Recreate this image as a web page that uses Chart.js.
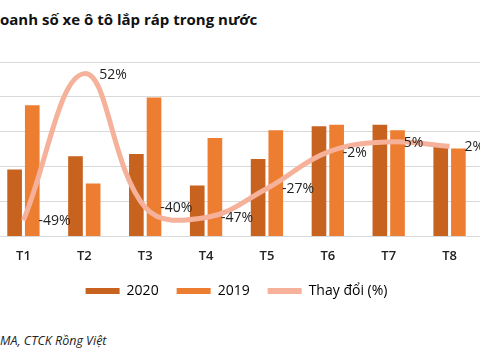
<!DOCTYPE html>
<html>
<head>
<meta charset="utf-8">
<script src="https://cdn.jsdelivr.net/npm/chart.js@4/dist/chart.umd.min.js"></script>
<style>
  html, body { margin: 0; padding: 0; background: #fff; overflow: hidden; }
  body { width: 480px; height: 360px; position: relative; font-family: "Open Sans", sans-serif; }
  #title { position: absolute; left: 0; top: 9px; font-size: 15px; font-weight: bold; color: #111; white-space: nowrap; }
  #source { position: absolute; left: 0; top: 332px; font-size: 12.5px; font-style: italic; color: #222; white-space: nowrap; }
  #wrap { position: absolute; left: -7px; top: 0; width: 487px; height: 308px; }
</style>
</head>
<body>
<div id="title">oanh số xe ô tô lắp ráp trong nước</div>
<div id="wrap"><canvas id="salesChart"></canvas></div>
<div id="source">MA, CTCK Rồng Việt</div>
<script>
const months = ['T1', 'T2', 'T3', 'T4', 'T5', 'T6', 'T7', 'T8'];
const sales2020 = [9.6, 11.5, 11.8, 7.3, 11.1, 15.8, 16.0, 12.8];
const sales2019 = [18.8, 7.6, 19.9, 14.1, 15.2, 16.0, 15.2, 12.6];
const changePct = [-49, 52, -40, -47, -27, -2, 5, 2];

// labels next to the line points, like the excel "right" position
const pctLabels = {
  id: 'pctLabels',
  afterDatasetsDraw(chart) {
    const meta = chart.getDatasetMeta(2);
    const ctx = chart.ctx;
    ctx.save();
    ctx.font = '14px "Open Sans"';
    ctx.fillStyle = '#222';
    ctx.textAlign = 'left';
    ctx.textBaseline = 'middle';
    meta.data.forEach((pt, i) => {
      ctx.fillText(changePct[i] + '%', pt.x + 15, pt.y + 1);
    });
    ctx.restore();
  }
};

const ctx = document.getElementById('salesChart').getContext('2d');
const salesChart = new Chart(ctx, {
  type: 'bar',
  data: {
    labels: months,
    datasets: [
      {
        label: '2020',
        data: sales2020,
        backgroundColor: '#C8621F',
        categoryPercentage: 0.58,
        barPercentage: 0.83,
        order: 1
      },
      {
        label: '2019',
        data: sales2019,
        backgroundColor: '#ED7D31',
        categoryPercentage: 0.58,
        barPercentage: 0.83,
        order: 1
      },
      {
        type: 'line',
        label: 'Thay đổi (%)',
        data: changePct,
        yAxisID: 'y1',
        borderColor: '#F5B19A',
        backgroundColor: '#F5B19A',
        borderWidth: 5,
        pointRadius: 0,
        tension: 0.4,
        order: 0
      }
    ]
  },
  options: {
    responsive: true,
    maintainAspectRatio: false,
    animation: false,
    layout: { padding: { top: 62, left: 0, right: 0, bottom: 0 } },
    plugins: {
      title: { display: false },
      tooltip: { enabled: false },
      legend: {
        position: 'bottom',
        labels: {
          font: { family: 'Open Sans', size: 14 },
          color: '#222',
          boxWidth: 34,
          boxHeight: 6,
          padding: 18,
          generateLabels(chart) {
            return chart.data.datasets.map((ds, i) => ({
              text: ds.label,
              fillStyle: ds.backgroundColor,
              strokeStyle: ds.backgroundColor,
              lineWidth: 0,
              hidden: false,
              datasetIndex: i
            }));
          }
        }
      }
    },
    scales: {
      x: {
        grid: { display: false, drawTicks: false },
        border: { display: false },
        ticks: {
          color: '#222',
          padding: 12,
          font: { family: 'Open Sans', size: 13, weight: '600' }
        },
        afterFit(scale) { scale.height -= 10; }
      },
      y: {
        min: 0,
        max: 25,
        ticks: { stepSize: 5, display: false },
        grid: { color: '#D9D9D9', drawTicks: false },
        border: { display: false }
      },
      y1: {
        display: false,
        min: -60,
        max: 60
      }
    }
  },
  plugins: [pctLabels]
});
</script>
</body>
</html>
